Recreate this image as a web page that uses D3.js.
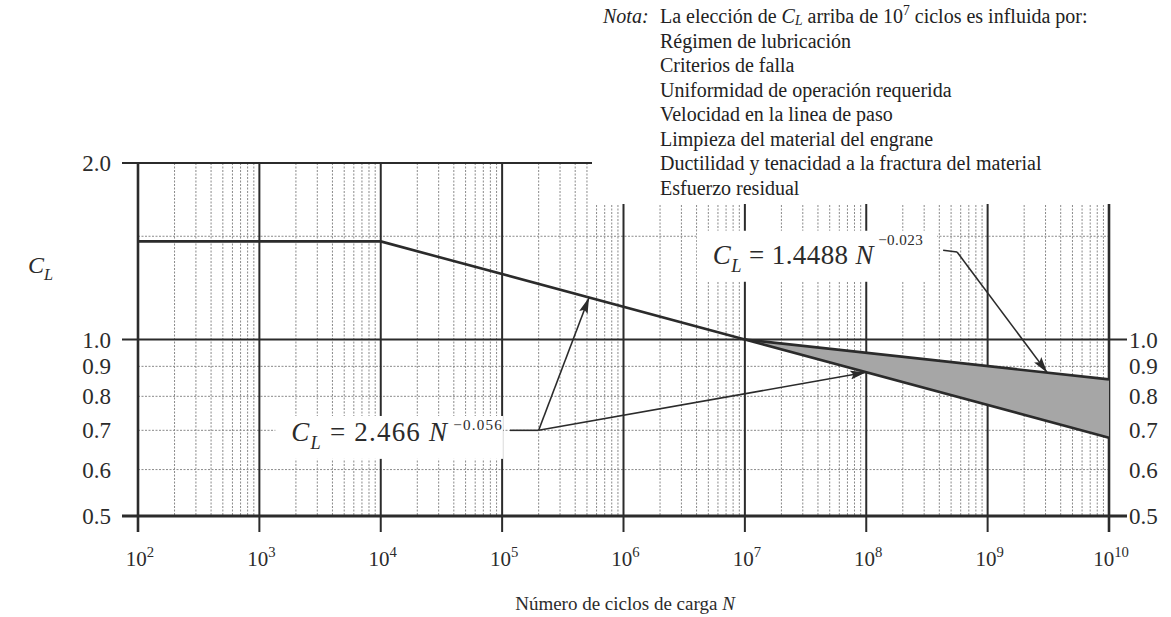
<!DOCTYPE html>
<html>
<head>
<meta charset="utf-8">
<script src="https://cdn.jsdelivr.net/npm/d3@7"></script>
<style>
  html, body { margin: 0; padding: 0; background: #fff; }
  svg { display: block; font-family: "Liberation Serif", "DejaVu Serif", serif; }
</style>
</head>
<body>
<svg id="chart" width="1171" height="617"></svg>
<script>
// axis decades (exponents of N) and log sub-divisions
var decades = [2, 3, 4, 5, 6, 7, 8, 9, 10];
var minorMult = [2, 3, 4, 5, 6, 7, 8, 9];
var leftTicks = [2.0, 1.0, 0.9, 0.8, 0.7, 0.6, 0.5];
var rightTicks = [1.0, 0.9, 0.8, 0.7, 0.6, 0.5];
var majorRows = [2.0, 1.0, 0.5];
var minorRows = [1.5, 0.9, 0.8, 0.7, 0.6];

// C_L = 2.466 N^-0.056 (flat below 10^4)
var lowerN = [1e2, 1e4, 1e7, 1e10];
var lowerCL = [1.47, 1.47, 1.0, 0.68];
// C_L = 1.4488 N^-0.023
var upperN = [1e7, 1e10];
var upperCL = [1.0, 0.855];

// leaders + where the arrows hit the curves
var leader1 = [[1.16e5, 0.70], [2.0e5, 0.70]];
var arrows1N = [5.2e5, 1e8];
var leader2 = [[4.3e8, 1.42], [5.6e8, 1.41]];
var arrows2N = [3.1e9];

var noteLines = [
    [{t: "La elección de "}, {t: "C", i: 1}, {t: "L", i: 1, sub: 1}, {t: "  arriba de 10"}, {t: "7", sup: 1}, {t: "  ciclos es influida por:"}],
    [{t: "Régimen de lubricación"}],
    [{t: "Criterios de falla"}],
    [{t: "Uniformidad de operación requerida"}],
    [{t: "Velocidad en la linea de paso"}],
    [{t: "Limpieza del material del engrane"}],
    [{t: "Ductilidad y tenacidad a la fractura del material"}],
    [{t: "Esfuerzo residual"}]
];

var svg = d3.select("#chart");
var ink = "#2b2b2b";

var x = d3.scaleLog().domain([1e2, 1e10]).range([138, 1109]);
var y = d3.scaleLog().domain([0.5, 2]).range([516, 163]);

function rich(text, parts, size) {
    var off = 0;
    parts.forEach(function (p) {
        var shift = p.sup ? -size * (p.raise || 0.42) : p.sub ? size * (p.drop || 0.28) : 0;
        var ts = text.append("tspan").attr("dy", shift - off).text(p.t);
        off = shift;
        if (p.i) ts.attr("font-style", "italic");
        if (p.sup || p.sub) ts.attr("font-size", size * (p.small || 0.68));
    });
}

// interpolation along a straight log-log segment
function valueAt(ns, cs, n) {
    for (var i = 0; i < ns.length - 1; i++) {
        if (n >= ns[i] && n <= ns[i + 1]) {
            var t = Math.log(n / ns[i]) / Math.log(ns[i + 1] / ns[i]);
            return Math.exp(Math.log(cs[i]) + t * Math.log(cs[i + 1] / cs[i]));
        }
    }
    return cs[cs.length - 1];
}

// ---- grid ----
var minorX = [];
decades.slice(0, -1).forEach(function (d) {
    minorMult.forEach(function (m) { minorX.push(m * Math.pow(10, d)); });
});

var grid = svg.append("g");
grid.selectAll(".vminor").data(minorX).join("line")
    .attr("x1", d => x(d)).attr("x2", d => x(d))
    .attr("y1", y(2)).attr("y2", y(0.5))
    .attr("stroke", "#8a8a8a").attr("stroke-width", 1)
    .attr("stroke-dasharray", "2,1.5");

grid.selectAll(".hminor").data(minorRows).join("line")
    .attr("x1", x(1e2)).attr("x2", x(1e10))
    .attr("y1", d => y(d)).attr("y2", d => y(d))
    .attr("stroke", "#8a8a8a").attr("stroke-width", 1)
    .attr("stroke-dasharray", "2,1.5");

grid.selectAll(".vmajor").data(decades).join("line")
    .attr("x1", d => x(Math.pow(10, d))).attr("x2", d => x(Math.pow(10, d)))
    .attr("y1", y(2)).attr("y2", y(0.5) + 16)
    .attr("stroke", ink)
    .attr("stroke-width", (d, i) => (i === 0 || i === decades.length - 1) ? 2.6 : 2);

grid.selectAll(".hmajor").data(majorRows).join("line")
    .attr("x1", x(1e2) - 16)
    .attr("x2", d => d === 2 ? x(1e10) : x(1e10) + 18)
    .attr("y1", d => y(d)).attr("y2", d => y(d))
    .attr("stroke", ink)
    .attr("stroke-width", d => d === 0.5 ? 3 : 2.2);

// ---- note (white panel cuts the grid) ----
var noteBack = svg.append("rect").attr("fill", "#fff");
var note = svg.append("g").attr("fill", "#222").style("font-size", "20px");
note.append("text").attr("x", 603).attr("y", 23)
    .attr("font-style", "italic").text("Nota:");
noteLines.forEach(function (parts, i) {
    var t = note.append("text").attr("x", 660).attr("y", 23 + i * 24.5);
    rich(t, parts.map(p => p.sub ? Object.assign({drop: 0.12}, p) : p), 20);
});
var nb = note.node().getBBox();
noteBack.attr("x", nb.x - 10).attr("y", 0)
    .attr("width", 1171 - nb.x + 10).attr("height", y(2) + 41);

// ---- band between the two curves ----
var line = d3.line().x(d => x(d[0])).y(d => y(d[1]));
var upperPts = upperN.map((n, i) => [n, upperCL[i]]);
var lowerPts = lowerN.map((n, i) => [n, lowerCL[i]]);
var band = upperPts.concat(lowerPts.filter(p => p[0] >= upperN[0]).reverse());

svg.append("path").attr("d", line(band) + "Z")
    .attr("fill", "#a6a6a6").attr("stroke", "none");

svg.append("path").attr("d", line(lowerPts))
    .attr("fill", "none").attr("stroke", ink).attr("stroke-width", 2.6);
svg.append("path").attr("d", line(upperPts))
    .attr("fill", "none").attr("stroke", ink).attr("stroke-width", 2.6);

// ---- annotations ----
svg.append("defs").append("marker")
    .attr("id", "head").attr("markerUnits", "userSpaceOnUse")
    .attr("markerWidth", 17).attr("markerHeight", 9)
    .attr("refX", 16).attr("refY", 4.5).attr("orient", "auto")
    .append("path").attr("d", "M0,0 L16,4.5 L0,9 L3,4.5 Z").attr("fill", ink);

function annotation(leader, tipsN, curveN, curveCL, parts, gap, lift, size, spacing, padRight) {
    var lbl = svg.append("text").attr("fill", ink).style("font-size", size + "px")
        .attr("text-anchor", "end").attr("letter-spacing", spacing + "px")
        .attr("x", x(leader[0][0]) - gap)
        .attr("y", y(leader[0][1]) + lift);
    rich(lbl, parts, size);
    var bb = lbl.node().getBBox();
    svg.insert("rect", "path").attr("fill", "#fff")
        .attr("x", bb.x - 16).attr("y", bb.y - 1)
        .attr("width", bb.width + 16 + padRight).attr("height", bb.height + 7);
    svg.append("path").attr("d", line(leader))
        .attr("fill", "none").attr("stroke", ink).attr("stroke-width", 1.6);
    var elbow = leader[leader.length - 1];
    tipsN.forEach(function (n) {
        svg.append("path").attr("d", line([elbow, [n, valueAt(curveN, curveCL, n)]]))
            .attr("fill", "none").attr("stroke", ink).attr("stroke-width", 1.6)
            .attr("marker-end", "url(#head)");
    });
}

annotation(leader1, arrows1N, lowerN, lowerCL,
    [{t: "C", i: 1}, {t: "L", i: 1, sub: 1}, {t: " = 2.466 "}, {t: "N", i: 1},
     {t: " −0.056", sup: 1, raise: 0.42, small: 0.56}], 7, 11, 27, 1.2, 0);
annotation(leader2, arrows2N, upperN, upperCL,
    [{t: "C", i: 1}, {t: "L", i: 1, sub: 1}, {t: " = 1.4488 "}, {t: "N", i: 1},
     {t: " −0.023", sup: 1, raise: 0.72, small: 0.56}], 20, 14, 27, 0.4, 14);

// ---- tick labels ----
var labels = svg.append("g").attr("fill", ink);
labels.selectAll(".yl").data(leftTicks).join("text")
    .attr("x", x(1e2) - 27).attr("y", d => y(d)).attr("dy", "0.35em")
    .attr("text-anchor", "end").style("font-size", "23px")
    .text(d => d.toFixed(1));
labels.selectAll(".yr").data(rightTicks).join("text")
    .attr("x", x(1e10) + 20).attr("y", d => y(d)).attr("dy", "0.35em")
    .style("font-size", "23px")
    .text(d => d.toFixed(1));

decades.forEach(function (d) {
    var t = labels.append("text").attr("x", x(Math.pow(10, d)) + 2).attr("y", 566)
        .attr("text-anchor", "middle").style("font-size", "21px");
    rich(t, [{t: "10"}, {t: String(d), sup: 1, raise: 0.45, small: 0.7}], 21);
});

// axis titles
var yt = labels.append("text").attr("x", 28).attr("y", 273).style("font-size", "24px");
rich(yt, [{t: "C", i: 1}, {t: "L", i: 1, sub: 1}], 24);

var xt = labels.append("text").attr("x", 625).attr("y", 610)
    .attr("text-anchor", "middle").style("font-size", "19px");
rich(xt, [{t: "Número de ciclos de carga "}, {t: "N", i: 1}], 19);
</script>
</body>
</html>
